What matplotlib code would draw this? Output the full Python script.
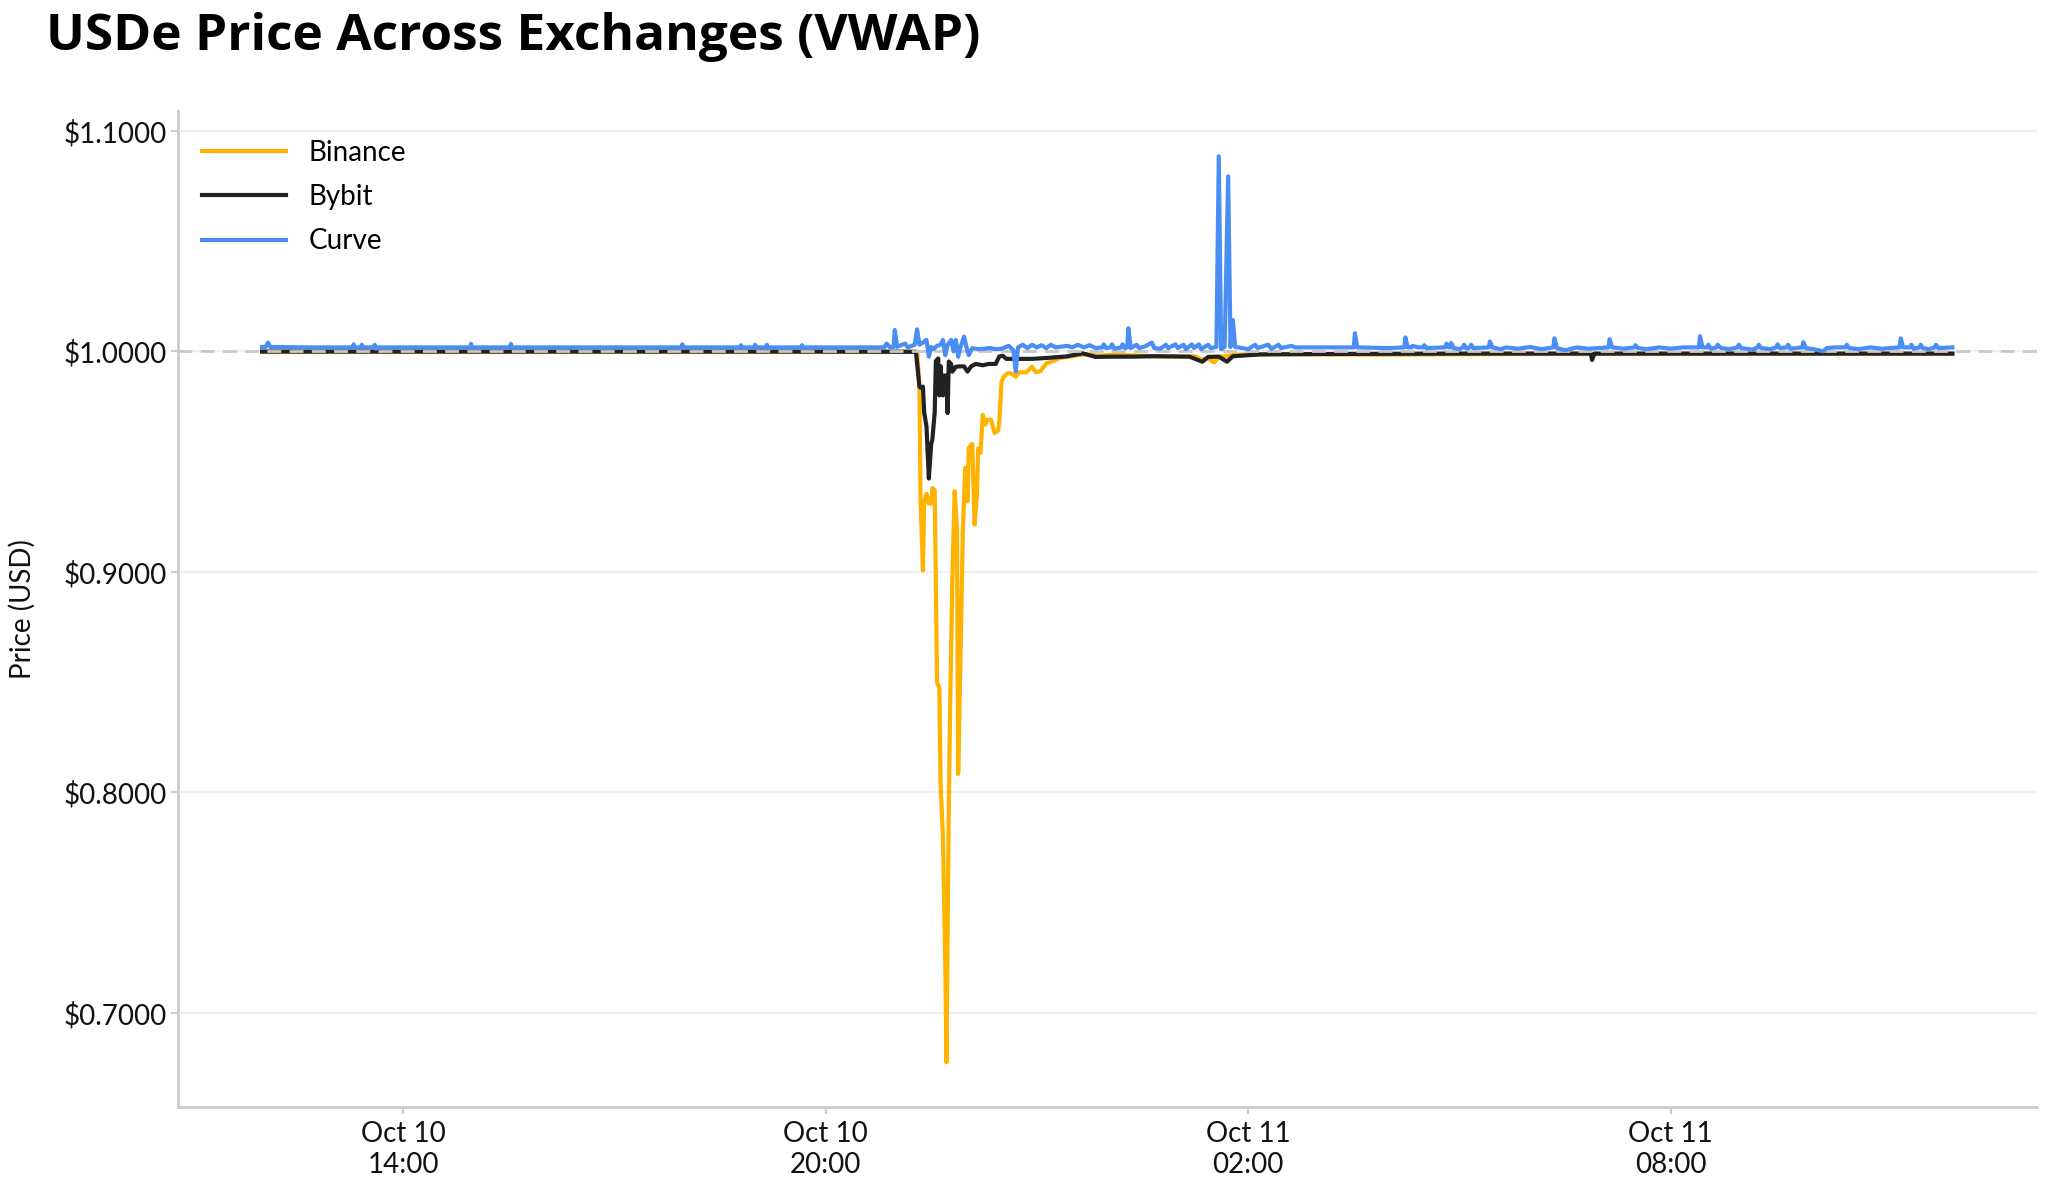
import matplotlib
matplotlib.use("Agg")
import matplotlib.pyplot as plt
import matplotlib.dates as mdates
from matplotlib.ticker import FuncFormatter
import pandas as pd

# ---------------- data (minutes after 2025-10-10 12:00, VWAP price in USD) -------------
start = pd.Timestamp("2025-10-10 12:00")

binance_min = [0, 60, 180, 300, 420, 540, 558, 560, 561, 563, 564, 566, 568, 570, 571, 573,
               575, 577, 578, 580, 582, 583, 585, 586, 588, 590, 592, 593, 595, 597, 599,
               601, 602, 605, 607, 609, 610, 612, 614, 616, 618, 621, 624, 627, 628, 630,
               632, 635, 638, 642, 645, 651, 656, 659, 663, 668, 673, 676, 679, 688, 696,
               702, 713, 724, 741, 760, 780, 795, 801, 805, 811, 815, 830, 860, 900, 960,
               1020, 1100, 1200, 1300, 1440]
binance_val = [0.9998, 0.9999, 0.9998, 0.9999, 0.9998, 0.9998, 0.9998, 0.9840, 0.9310, 0.9006,
               0.9310, 0.9354, 0.9310, 0.9310, 0.9380, 0.9370, 0.8498, 0.8475, 0.8036, 0.7805,
               0.7228, 0.6776, 0.7922, 0.8336, 0.8961, 0.9366, 0.9190, 0.8083, 0.8610, 0.9190,
               0.9471, 0.9320, 0.9562, 0.9580, 0.9215, 0.9350, 0.9560, 0.9540, 0.9712, 0.9668,
               0.9690, 0.9690, 0.9630, 0.9640, 0.9680, 0.9863, 0.9886, 0.9900, 0.9900, 0.9885,
               0.9905, 0.9905, 0.9930, 0.9905, 0.9910, 0.9945, 0.9955, 0.9960, 0.9970, 0.9976,
               0.9983, 0.9987, 0.9980, 0.9985, 0.9982, 0.9978, 0.9976, 0.9978, 0.9960, 0.9970,
               0.9950, 0.9975, 0.9985, 0.9988, 0.9986, 0.9985, 0.9987, 0.9988, 0.9988, 0.9989,
               0.9988]

bybit_min = [0, 120, 240, 360, 480, 557, 560, 561, 563, 564, 566, 567, 568, 570, 571, 573, 574,
             576, 577, 578, 580, 581, 583, 584, 585, 587, 588, 591, 594, 598, 601, 604, 608,
             614, 619, 625, 628, 631, 634, 639, 645, 656, 668, 685, 699, 710, 724, 741, 760,
             790, 801, 806, 815, 822, 827, 850, 900, 960, 1020, 1100, 1132, 1133, 1135, 1200,
             1300, 1440]
bybit_val = [0.9999, 0.9999, 0.9999, 0.9999, 0.9999, 0.9998, 0.9840, 0.9835, 0.9840, 0.9724,
             0.9660, 0.9540, 0.9423, 0.9580, 0.9600, 0.9723, 0.9956, 0.9968, 0.9800, 0.9933,
             0.9800, 0.9890, 0.9890, 0.9720, 0.9954, 0.9942, 0.9908, 0.9930, 0.9932, 0.9932,
             0.9908, 0.9932, 0.9943, 0.9937, 0.9943, 0.9943, 0.9977, 0.9980, 0.9966, 0.9966,
             0.9966, 0.9966, 0.9970, 0.9977, 0.9991, 0.9975, 0.9976, 0.9976, 0.9978, 0.9976,
             0.9953, 0.9975, 0.9976, 0.9953, 0.9978, 0.9986, 0.9988, 0.9989, 0.9990, 0.9990,
             0.9990, 0.9961, 0.9990, 0.9990, 0.9990, 0.9990]

# Curve: each line of the two lists below covers the same points
curve_min = [0, 3, 5, 7, 40, 77, 78, 79, 84, 85, 86, 95, 96, 97, 98,
             177, 178, 179, 211, 212, 213, 357, 358, 359, 407, 408, 409,
             419, 420, 421, 429, 430, 431, 459, 460, 461, 530, 532, 535,
             538, 539, 541, 545, 548, 550, 556, 558, 560, 563, 566, 568,
             570, 572, 575, 578, 580, 582, 584, 587, 589, 591, 593, 595,
             598, 600, 602, 605, 610, 615, 620, 625, 630, 636, 640, 642,
             644, 648, 652, 656, 660, 664, 668, 672, 676, 686, 690, 695,
             700, 705, 710, 716, 717, 719, 723, 724, 726, 732, 733, 735,
             737, 738, 740, 745, 747, 752, 758, 760, 765, 770, 772, 778,
             780, 785, 787, 792, 794, 798, 800, 806, 808, 813, 815, 817,
             820, 823, 825, 826, 827, 829, 835, 840, 846, 848, 857, 860,
             866, 868, 877, 880, 930, 931, 933, 960, 973, 974, 976, 979,
             980, 985, 989, 990, 992, 1008, 1009, 1011, 1012, 1013, 1015, 1020,
             1023, 1024, 1026, 1029, 1030, 1032, 1045, 1046, 1048, 1055, 1060, 1070,
             1080, 1090, 1100, 1101, 1103, 1110, 1120, 1130, 1147, 1148, 1150, 1160,
             1169, 1170, 1172, 1180, 1190, 1200, 1210, 1224, 1225, 1227, 1231, 1232,
             1234, 1239, 1240, 1243, 1250, 1257, 1258, 1260, 1270, 1274, 1275, 1277,
             1285, 1290, 1291, 1293, 1299, 1300, 1302, 1312, 1313, 1315, 1322, 1330,
             1333, 1340, 1349, 1350, 1352, 1360, 1370, 1380, 1395, 1396, 1398, 1404,
             1405, 1407, 1412, 1413, 1415, 1420, 1425, 1426, 1428, 1440]
curve_val = [1.0020, 1.0020, 1.0040, 1.0020, 1.0018, 1.0018, 1.0032, 1.0018, 1.0018, 1.0030, 1.0018, 1.0018, 1.0030, 1.0012, 1.0018,
             1.0018, 1.0034, 1.0018, 1.0018, 1.0034, 1.0018, 1.0018, 1.0032, 1.0018, 1.0018, 1.0028, 1.0018,
             1.0018, 1.0030, 1.0018, 1.0018, 1.0030, 1.0018, 1.0018, 1.0028, 1.0018, 1.0018, 1.0035, 1.0018,
             1.0020, 1.0097, 1.0020, 1.0030, 1.0035, 1.0018, 1.0030, 1.0100, 1.0030, 1.0040, 1.0052, 0.9976,
             1.0020, 1.0010, 1.0025, 1.0030, 1.0052, 0.9983, 1.0030, 1.0052, 1.0000, 1.0052, 0.9976, 1.0020,
             1.0067, 1.0020, 0.9983, 1.0015, 1.0010, 1.0012, 1.0015, 1.0010, 1.0012, 1.0025, 1.0005, 0.9908,
             1.0018, 1.0030, 1.0015, 1.0030, 1.0018, 1.0028, 1.0015, 1.0030, 1.0018, 1.0025, 1.0018, 1.0030,
             1.0018, 1.0028, 1.0015, 1.0018, 1.0032, 1.0015, 1.0018, 1.0032, 1.0012, 1.0018, 1.0032, 1.0015,
             1.0018, 1.0105, 1.0015, 1.0030, 1.0015, 1.0022, 1.0040, 1.0015, 1.0012, 1.0030, 1.0015, 1.0032,
             1.0015, 1.0030, 1.0010, 1.0032, 1.0015, 1.0032, 1.0010, 1.0030, 1.0015, 1.0020, 1.0885, 1.0010,
             1.0020, 1.0794, 1.0020, 1.0142, 1.0142, 1.0020, 1.0015, 1.0010, 1.0030, 1.0015, 1.0030, 1.0012,
             1.0030, 1.0015, 1.0025, 1.0018, 1.0018, 1.0082, 1.0018, 1.0015, 1.0018, 1.0063, 1.0018, 1.0018,
             1.0025, 1.0018, 1.0018, 1.0028, 1.0015, 1.0018, 1.0035, 1.0018, 1.0018, 1.0038, 1.0015, 1.0010,
             1.0018, 1.0030, 1.0012, 1.0018, 1.0030, 1.0015, 1.0018, 1.0045, 1.0018, 1.0010, 1.0018, 1.0012,
             1.0020, 1.0010, 1.0018, 1.0059, 1.0015, 1.0005, 1.0018, 1.0012, 1.0018, 1.0055, 1.0018, 1.0012,
             1.0018, 1.0028, 1.0015, 1.0010, 1.0018, 1.0012, 1.0018, 1.0018, 1.0069, 1.0018, 1.0018, 1.0030,
             1.0012, 1.0018, 1.0030, 1.0015, 1.0010, 1.0018, 1.0030, 1.0015, 1.0008, 1.0018, 1.0030, 1.0015,
             1.0010, 1.0018, 1.0032, 1.0015, 1.0018, 1.0030, 1.0012, 1.0018, 1.0042, 1.0015, 1.0010, 1.0000,
             1.0015, 1.0018, 1.0018, 1.0030, 1.0015, 1.0010, 1.0018, 1.0012, 1.0018, 1.0059, 1.0018, 1.0018,
             1.0030, 1.0012, 1.0018, 1.0030, 1.0015, 1.0010, 1.0018, 1.0030, 1.0015, 1.0018]

series_names = ["Binance", "Bybit", "Curve"]
y_ticks = [0.7, 0.8, 0.9, 1.0, 1.1]
x_ticks = ["2025-10-10 14:00", "2025-10-10 20:00", "2025-10-11 02:00", "2025-10-11 08:00"]
peg_value = 1.0

# ---------------- style ----------------
plt.rcParams["font.family"] = ["Lato", "DejaVu Sans"]
colors = {"Binance": "#FFB300", "Bybit": "#222222", "Curve": "#4A8EF5"}

fig = plt.figure(figsize=(10.24, 5.94), dpi=200)
ax = fig.add_axes([0.0867, 0.0678, 0.9079, 0.8388])

def to_time(mins):
    return start + pd.to_timedelta(mins, unit="m")

ax.plot(to_time(binance_min), binance_val, color=colors["Binance"], lw=1.5,
        label=series_names[0], zorder=2)
ax.plot(to_time(bybit_min), bybit_val, color=colors["Bybit"], lw=1.5,
        label=series_names[1], zorder=3)
ax.axhline(peg_value, color="#c8c8c8", lw=1.0, ls=(0, (5, 3)), zorder=3.5)
ax.plot(to_time(curve_min), curve_val, color=colors["Curve"], lw=1.5,
        label=series_names[2], zorder=4)

ax.set_yticks(y_ticks)
ax.yaxis.set_major_formatter(FuncFormatter(lambda v, p: f"${v:.4f}"))
ax.set_xticks(pd.to_datetime(x_ticks))
ax.xaxis.set_major_formatter(mdates.DateFormatter("%b %d\n%H:%M"))

ax.grid(axis="y", color="#f0f0f0", lw=0.8, zorder=0)
ax.set_axisbelow(True)
for s in ["top", "right"]:
    ax.spines[s].set_visible(False)
for s in ["left", "bottom"]:
    ax.spines[s].set_color("#cccccc")
    ax.spines[s].set_linewidth(1.0)
ax.tick_params(axis="both", colors="#cccccc", labelcolor="#111111", labelsize=10, length=2.5)
ax.tick_params(axis="y", pad=1.5)
ax.tick_params(axis="x", pad=2.5)

ax.set_ylabel("Price (USD)", fontsize=10, color="#111111")
ax.yaxis.set_label_coords(-0.0765, 0.5)

leg = ax.legend(loc="upper left", bbox_to_anchor=(-0.0027, 1.0), frameon=False, fontsize=10,
                handlelength=3.05, handletextpad=0.8, labelspacing=0.65, borderaxespad=0.65)

fig.text(0.0223, 1 - 50 / 1188, "USDe Price Across Exchanges (VWAP)", fontsize=18.5,
         fontweight="bold", va="baseline", ha="left", color="#000000",
         family=["Open Sans", "DejaVu Sans"])

fig.savefig("out.png", dpi=200)
